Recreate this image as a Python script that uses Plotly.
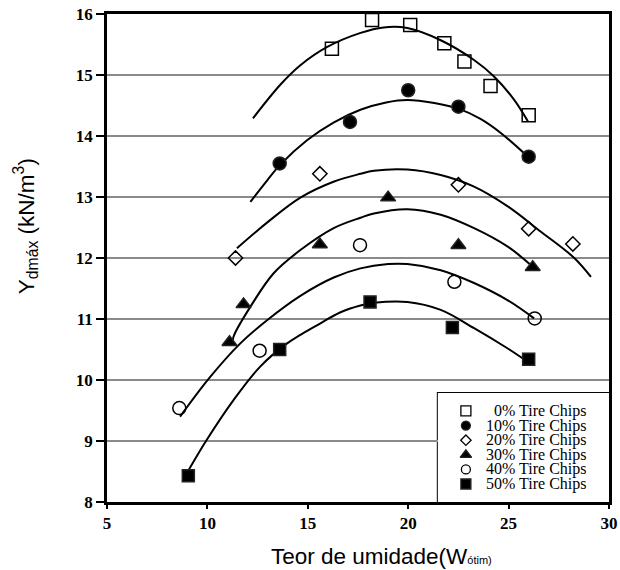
import plotly.graph_objects as go

# Series names (tire-chip content)
labels = ["0% Tire Chips", "10% Tire Chips", "20% Tire Chips",
          "30% Tire Chips", "40% Tire Chips", "50% Tire Chips"]

# Measured points: moisture content (%) vs max dry unit weight (kN/m3)
w_0 = [16.2, 18.2, 20.1, 21.8, 22.8, 24.1, 26.0]
g_0 = [15.43, 15.90, 15.82, 15.52, 15.22, 14.82, 14.34]
w_10 = [13.6, 17.1, 20.0, 22.5, 26.0]
g_10 = [13.55, 14.23, 14.75, 14.48, 13.66]
w_20 = [11.4, 15.6, 22.5, 26.0, 28.2]
g_20 = [12.0, 13.38, 13.2, 12.48, 12.23]
w_30 = [11.1, 11.8, 15.6, 19.0, 22.5, 26.2]
g_30 = [10.62, 11.24, 12.22, 12.99, 12.21, 11.85]
w_40 = [8.6, 12.6, 17.6, 22.3, 26.3]
g_40 = [9.54, 10.48, 12.21, 11.61, 11.01]
w_50 = [9.05, 13.6, 18.1, 22.2, 26.0]
g_50 = [8.43, 10.5, 11.28, 10.86, 10.34]

# Compaction curves drawn through each series
cw_0 = [12.27, 13.63, 14.63, 15.97, 17.63, 18.77, 19.96, 21.62, 23.26, 24.26, 25.26, 25.96]
cg_0 = [14.29, 14.84, 15.16, 15.46, 15.69, 15.78, 15.77, 15.57, 15.25, 14.98, 14.60, 14.24]
cw_10 = [12.14, 12.97, 13.63, 14.96, 16.28, 17.62, 18.9, 19.96, 21.3, 22.56, 23.6, 24.61, 25.96]
cg_10 = [12.92, 13.27, 13.53, 13.93, 14.22, 14.43, 14.55, 14.59, 14.54, 14.44, 14.28, 14.05, 13.66]
cw_20 = [11.47, 12.97, 14.63, 16.28, 17.62, 18.29, 19.96, 21.62, 23.28, 24.94, 26.61, 28.27, 29.10]
cg_20 = [12.16, 12.58, 12.99, 13.25, 13.38, 13.43, 13.45, 13.36, 13.17, 12.85, 12.43, 12.0, 11.69]
cw_30 = [11.25, 11.3, 12.14, 13.30, 14.63, 16.29, 17.62, 18.29, 19.96, 21.62, 23.28, 24.94, 26.19]
cg_30 = [10.58, 10.71, 11.20, 11.75, 12.13, 12.49, 12.66, 12.73, 12.80, 12.71, 12.49, 12.19, 11.86]
cw_40 = [8.64, 10.14, 11.64, 12.97, 14.63, 16.29, 17.62, 19.0, 19.96, 21.62, 23.28, 24.94, 26.27]
cg_40 = [9.40, 10.05, 10.60, 10.98, 11.38, 11.68, 11.83, 11.90, 11.90, 11.80, 11.59, 11.31, 11.01]
cw_50 = [9.06, 9.97, 11.30, 12.63, 13.97, 15.63, 16.63, 17.62, 18.29, 19.96, 21.62, 23.28, 24.94, 25.94]
cg_50 = [8.52, 9.02, 9.67, 10.22, 10.60, 10.93, 11.11, 11.22, 11.265, 11.28, 11.15, 10.85, 10.52, 10.30]

# Axis ticks
x_ticks = [5, 10, 15, 20, 25, 30]
y_ticks = [8, 9, 10, 11, 12, 13, 14, 15, 16]

points = [(w_0, g_0), (w_10, g_10), (w_20, g_20), (w_30, g_30), (w_40, g_40), (w_50, g_50)]
curves = [(cw_0, cg_0), (cw_10, cg_10), (cw_20, cg_20), (cw_30, cg_30), (cw_40, cg_40), (cw_50, cg_50)]

symbols = ["square-open", "circle", "diamond-open", "triangle-up", "circle-open", "square"]
plot_sizes = [13, 13, 11, 13, 13, 12]
key_sizes = [10, 9, 8, 10, 9, 10]

fig = go.Figure()

for cw, cg in curves:
    fig.add_trace(go.Scatter(x=cw, y=cg, mode="lines", line=dict(color="black", width=2, shape="spline"),
                             showlegend=False, hoverinfo="skip"))

for (w, g), sym, sz, name in zip(points, symbols, plot_sizes, labels):
    fig.add_trace(go.Scatter(x=w, y=g, mode="markers", name=name, showlegend=False,
                             marker=dict(symbol=sym, size=sz, color="black",
                                         line=dict(color="#222", width=1.5))))

# Legend key drawn in its own small frame at the lower right of the plot
key_top, key_step = 0.835, 0.134
key_y = [key_top - i * key_step for i in range(len(labels))]
for sym, sz, ky in zip(symbols, key_sizes, key_y):
    fig.add_trace(go.Scatter(x=[0.164], y=[ky], xaxis="x2", yaxis="y2", mode="markers", showlegend=False,
                             hoverinfo="skip",
                             marker=dict(symbol=sym, size=sz, color="black",
                                         line=dict(color="#222", width=1.3))))

annotations = []
for name, ky in zip(labels, key_y):
    annotations.append(dict(text=name, x=0.878, y=ky, xref="x2", yref="y2", xanchor="right", yanchor="middle",
                            showarrow=False, font=dict(family="Liberation Serif", size=16, color="black")))

annotations.append(dict(text="Y<sub>dmáx</sub> (kN/m<sup>3</sup>)", textangle=-90,
                        x=-0.161, y=0.5656, xref="paper", yref="paper", xanchor="center", yanchor="middle",
                        showarrow=False, font=dict(family="Liberation Sans", size=22.5, color="black")))
annotations.append(dict(text="Teor de umidade(W<span style='font-size:11px'>ótim)</span>",
                        x=0.546, y=-0.1127, xref="paper", yref="paper", xanchor="center", yanchor="middle",
                        showarrow=False, font=dict(family="Liberation Sans", size=22.5, color="black")))

tick_font = dict(family="Liberation Serif", size=17, color="black", weight="bold")

fig.update_layout(
    width=620, height=570,
    margin=dict(l=107, r=11, t=14, b=68),
    paper_bgcolor="white", plot_bgcolor="white",
    showlegend=False,
    xaxis=dict(range=[5, 30], tickvals=x_ticks, showgrid=False, zeroline=False, automargin=False,
               showline=True, linecolor="black", linewidth=2.5, mirror=True,
               ticks="outside", ticklen=4, tickwidth=1.5, tickcolor="black", tickfont=tick_font),
    yaxis=dict(range=[8, 16], tickvals=y_ticks, showgrid=True, gridcolor="#8a8a8a", gridwidth=2,
               zeroline=False, automargin=False, showline=True, linecolor="black", linewidth=2.5, mirror=True,
               ticks="outside", ticklen=8, tickwidth=2, tickcolor="black", tickfont=tick_font),
    xaxis2=dict(domain=[0.659, 1.0], range=[0, 1], anchor="y2", visible=False, fixedrange=True,
                automargin=False),
    yaxis2=dict(domain=[0.0, 0.2234], range=[0, 1], anchor="x2", visible=False, fixedrange=True,
                automargin=False),
    shapes=[dict(type="rect", xref="x2 domain", yref="y2 domain", x0=0, x1=1, y0=0, y1=1,
                 fillcolor="white", line=dict(color="black", width=2), layer="below")],
    annotations=annotations,
)

fig.write_html("out.html")
